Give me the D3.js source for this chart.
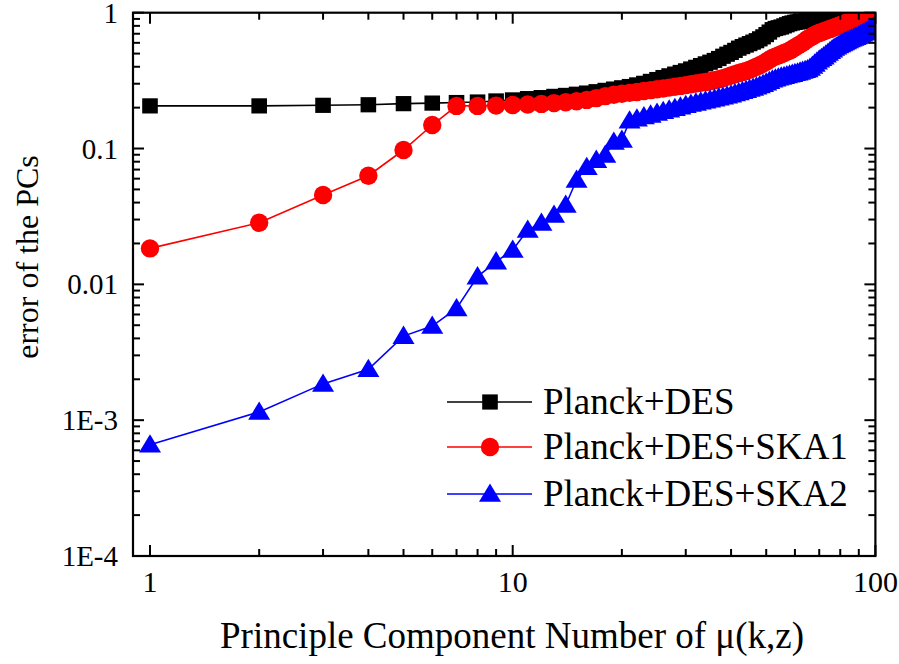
<!DOCTYPE html>
<html>
<head>
<meta charset="utf-8">
<script src="https://cdn.jsdelivr.net/npm/d3@7"></script>
</head>
<body style="margin:0">
<svg id="chart" width="899" height="664"></svg>
<script>
// ---- data ----
const pcNumbers = d3.range(1, 101);
const planckDES = [
 0.206,0.206,0.208,0.210,0.214,0.216,0.218,0.220,0.224,0.228,
 0.233,0.237,0.242,0.246,0.251,0.256,0.262,0.268,0.274,0.280,
 0.286,0.294,0.302,0.312,0.322,0.333,0.343,0.353,0.363,0.373,
 0.385,0.396,0.408,0.420,0.432,0.445,0.460,0.478,0.495,0.510,
 0.528,0.548,0.563,0.578,0.592,0.607,0.622,0.642,0.664,0.690,
 0.720,0.750,0.765,0.775,0.785,0.800,0.815,0.830,0.840,0.850,
 0.855,0.860,0.865,0.870,0.880,0.890,0.900,0.910,0.920,0.930,
 0.940,0.945,0.950,0.955,0.960,0.965,0.970,0.975,0.980,0.985,
 0.990,0.995,1.000,1.000,1.005,1.010,1.010,1.015,1.020,1.020,
 1.025,1.030,1.030,1.035,1.040,1.040,1.045,1.050,1.050,1.055
];
const planckDESSKA1 = [
 0.0184,0.0284,0.0455,0.0631,0.0975,0.149,0.206,0.206,0.207,0.209,
 0.211,0.213,0.216,0.219,0.223,0.228,0.235,0.243,0.249,0.253,
 0.257,0.261,0.265,0.269,0.273,0.277,0.281,0.285,0.289,0.293,
 0.297,0.301,0.305,0.309,0.313,0.318,0.324,0.330,0.337,0.345,
 0.352,0.360,0.366,0.373,0.380,0.390,0.400,0.410,0.422,0.435,
 0.450,0.465,0.475,0.485,0.495,0.505,0.515,0.525,0.540,0.555,
 0.570,0.585,0.600,0.620,0.640,0.655,0.670,0.685,0.700,0.710,
 0.720,0.730,0.740,0.750,0.760,0.770,0.780,0.790,0.800,0.810,
 0.820,0.830,0.840,0.850,0.860,0.870,0.880,0.890,0.900,0.910,
 0.920,0.930,0.935,0.940,0.945,0.950,0.955,0.960,0.970,0.980
];
const planckDESSKA2 = [
 0.00066,0.00115,0.00185,0.00237,0.00416,0.00493,0.00665,0.0114,0.0147,0.0179,
 0.0251,0.0283,0.0324,0.0384,0.0586,0.0729,0.0822,0.0895,0.1116,0.1155,
 0.160,0.166,0.172,0.177,0.183,0.188,0.193,0.198,0.203,0.208,
 0.213,0.217,0.221,0.225,0.229,0.233,0.237,0.241,0.245,0.249,
 0.254,0.259,0.264,0.269,0.274,0.279,0.285,0.291,0.297,0.305,
 0.313,0.321,0.327,0.332,0.337,0.341,0.345,0.349,0.353,0.358,
 0.362,0.367,0.372,0.377,0.382,0.392,0.405,0.420,0.435,0.450,
 0.462,0.475,0.490,0.505,0.520,0.535,0.550,0.562,0.574,0.585,
 0.595,0.605,0.615,0.625,0.635,0.643,0.651,0.659,0.668,0.678,
 0.690,0.700,0.712,0.724,0.736,0.748,0.760,0.772,0.784,0.795
];
const seriesNames = ["Planck+DES", "Planck+DES+SKA1", "Planck+DES+SKA2"];
const seriesColors = ["#000000", "#ff0000", "#0000ff"];
const seriesShapes = ["square", "circle", "triangle"];
const xTickValues = [1, 10, 100];
const xTickLabels = ["1", "10", "100"];
const yTickValues = [1e-4, 1e-3, 1e-2, 1e-1, 1];
const yTickLabels = ["1E-4", "1E-3", "0.01", "0.1", "1"];

// ---- layout ----
const L = 133, R = 875.4, T = 12.7, B = 556;
const decade = (R - 150) / 2;
const xMin = Math.pow(10, (L - 150) / decade);
const x = d3.scaleLog().domain([xMin, 100]).range([L, R]);
const y = d3.scaleLog().domain([1e-4, 1]).range([B, T]);

const svg = d3.select("#chart");
svg.append("rect").attr("width", 899).attr("height", 664).attr("fill", "#fff");

svg.append("defs").append("clipPath").attr("id", "plotclip")
  .append("rect").attr("x", L).attr("y", T).attr("width", R - L).attr("height", B - T);

function marker(sel, shape, color) {
  if (shape === "square") {
    sel.append("rect").attr("x", -7.8).attr("y", -7.6).attr("width", 15.6).attr("height", 15.2).attr("fill", color);
  } else if (shape === "circle") {
    sel.append("circle").attr("r", 9.2).attr("fill", color);
  } else {
    sel.append("path").attr("d", "M0,-10.5L11,7.8L-11,7.8Z").attr("fill", color);
  }
}

const plot = svg.append("g").attr("clip-path", "url(#plotclip)");
const allSeries = [planckDES, planckDESSKA1, planckDESSKA2];
const line = d3.line().x(d => x(d[0])).y(d => y(d[1]));
allSeries.forEach((vals, i) => {
  const pts = pcNumbers.map((n, j) => [n, vals[j]]);
  const g = plot.append("g");
  g.append("path").attr("d", line(pts)).attr("fill", "none")
    .attr("stroke", seriesColors[i]).attr("stroke-width", 1.6);
  pts.forEach(p => {
    const m = g.append("g").attr("transform", `translate(${x(p[0])},${y(p[1])})`);
    marker(m, seriesShapes[i], seriesColors[i]);
  });
});

// ---- axes frame with inward ticks ----
const axisG = svg.append("g");
const majorLen = 11, minorLen = 7;
const xMinor = [];
[1, 10].forEach(b => { for (let k = 2; k <= 9; k++) xMinor.push(b * k); });
const yMinor = [];
[1e-4, 1e-3, 1e-2, 1e-1].forEach(b => { for (let k = 2; k <= 9; k++) yMinor.push(b * k); });

function tickLine(x1, y1, x2, y2) {
  axisG.append("line").attr("x1", x1).attr("y1", y1).attr("x2", x2).attr("y2", y2)
    .attr("stroke", "#000").attr("stroke-width", 2);
}
xTickValues.forEach(v => { const px = x(v); tickLine(px, B, px, B - majorLen); tickLine(px, T, px, T + majorLen); });
xMinor.forEach(v => { const px = x(v); tickLine(px, B, px, B - minorLen); tickLine(px, T, px, T + minorLen); });
yTickValues.forEach(v => { const py = y(v); tickLine(L, py, L + majorLen, py); tickLine(R, py, R - majorLen, py); });
yMinor.forEach(v => { const py = y(v); tickLine(L, py, L + minorLen, py); tickLine(R, py, R - minorLen, py); });

axisG.append("rect").attr("x", L).attr("y", T).attr("width", R - L).attr("height", B - T)
  .attr("fill", "none").attr("stroke", "#000").attr("stroke-width", 2.2);

// all text goes through this helper: serif font
function addText(parent, str, size) {
  return parent.append("text")
    .attr("font-family", "Liberation Serif")
    .style("font-family", '"Liberation Serif"')
    .attr("font-size", size)
    .attr("fill", "#000")
    .text(str);
}

// tick labels
xTickValues.forEach((v, i) => {
  addText(svg, xTickLabels[i], 30)
    .attr("x", x(v)).attr("y", 592)
    .attr("text-anchor", "middle");
});
yTickValues.forEach((v, i) => {
  addText(svg, yTickLabels[i], 29)
    .attr("x", 118).attr("y", y(v) + 10).attr("text-anchor", "end");
});

// axis titles
addText(svg, "Principle Component Number of \u03bc(k,z)", 37)
  .attr("x", 512).attr("y", 648).attr("text-anchor", "middle");
addText(svg, "error of the PCs", 32)
  .attr("transform", "translate(38,257) rotate(-90)").attr("text-anchor", "middle");

// legend
const legendY = [402, 447, 494];
seriesNames.forEach((name, i) => {
  const g = svg.append("g");
  g.append("line").attr("x1", 447).attr("x2", 532).attr("y1", legendY[i]).attr("y2", legendY[i])
    .attr("stroke", seriesColors[i]).attr("stroke-width", 1.6);
  const m = g.append("g").attr("transform", `translate(490,${legendY[i]})`);
  marker(m, seriesShapes[i], seriesColors[i]);
  addText(g, name, 37).attr("x", 543).attr("y", legendY[i] + 11.5);
});
</script>
</body>
</html>
